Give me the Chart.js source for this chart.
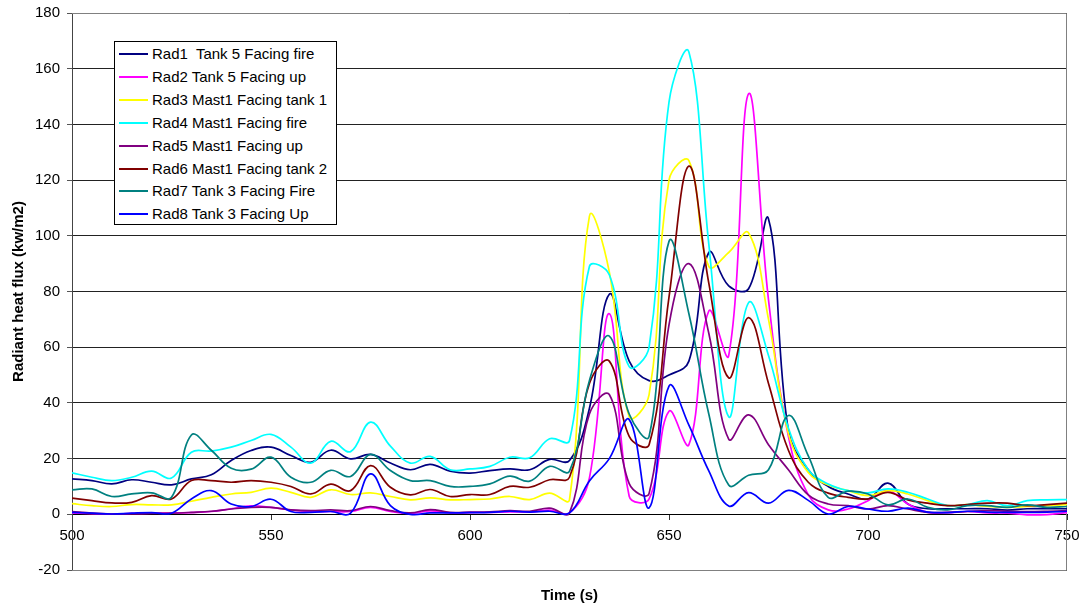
<!DOCTYPE html>
<html>
<head>
<meta charset="utf-8">
<script src="https://cdn.jsdelivr.net/npm/chart.js"></script>
<style>
  body { margin: 0; background: #fff; }
  #wrap { position: relative; width: 1083px; height: 607px; font-family: "Liberation Sans", Arial, sans-serif; }
  #legend { position: absolute; left: 114px; top: 41px; width: 221px; height: 182px; border: 1px solid #000; background: #fff; }
  .row { position: absolute; left: 0; height: 20px; line-height: 20px; font-size: 15px; color: #000; white-space: pre; }
  .row .swatch { position: absolute; left: 4px; top: 9px; width: 29px; height: 2px; }
  .row .txt { position: absolute; left: 37px; top: 0; }
</style>
</head>
<body>
<div id="wrap">
  <canvas id="chart" width="1083" height="607"></canvas>
  <div id="legend"></div>
</div>
<script>
// time axis (s)
const times = [500, 505, 510, 515, 520, 525, 530, 535, 540, 545, 550, 555, 560, 565, 570, 575, 580, 585, 590, 595,
  600, 605, 610, 615, 620, 625, 630, 635, 640, 645, 650, 655, 660, 665, 670, 675, 680, 685, 690, 695,
  700, 705, 710, 715, 720, 725, 730, 735, 740, 745, 750];

const labels = [
  "Rad1  Tank 5 Facing fire",
  "Rad2 Tank 5 Facing up",
  "Rad3 Mast1 Facing tank 1",
  "Rad4 Mast1 Facing fire",
  "Rad5 Mast1 Facing up",
  "Rad6 Mast1 Facing tank 2",
  "Rad7 Tank 3 Facing Fire",
  "Rad8 Tank 3 Facing Up"
];
const colors = ["#000080", "#FF00FF", "#FFFF00", "#00FFFF", "#800080", "#800000", "#008080", "#0000FF"];

// radiant heat flux (kw/m2)
const rad1 = [12.7, 12.1, 10.9, 12.4, 11.5, 10.6, 12.7, 14.2, 19.3, 22.9, 24.1, 21.1, 18.7, 23.0, 19.9, 21.5, 18.4, 16.0, 17.9, 15.5,
  14.8, 15.7, 16.3, 16.0, 19.7, 19.3, 38, 79, 55, 48, 50, 55, 94, 82, 81, 106, 30, 16, 10, 7.3,
  5.5, 11.2, 3.7, 2, 2, 2, 2, 1.5, 2, 2, 2];
const rad2 = [0.5, 0.2, 0.1, 0.3, 0.4, 0.4, 0.6, 1.0, 2.0, 3.0, 2.5, 1.5, 1.0, 1.0, 1.0, 2.5, 1.0, 0.3, 1.2, 0.5,
  0.6, 0.7, 0.9, 0.8, 1.5, 0.5, 13, 72, 6.5, 5.5, 37, 25, 73, 57, 151, 77, 28, 7, 1.6, 1.9,
  4.9, 8.5, 3.7, 0.7, 0.6, 1.0, 0.5, 0.4, -0.2, -0.1, 0.6];
const rad3 = [3.8, 3.1, 2.8, 3.5, 3.4, 3.4, 4.7, 6.1, 7.3, 7.9, 9.4, 7.9, 6.1, 8.8, 7.1, 7.7, 6.4, 5.2, 5.9, 5.2,
  5.3, 5.5, 6.4, 5.3, 7.6, 5.3, 107, 87, 35, 43, 120, 127, 89, 94, 101, 70, 29, 15, 10.5, 8.5,
  6.7, 8.5, 7.3, 4.9, 3.1, 3.5, 2.8, 2.5, 2.8, 3.1, 3.5];
const rad4 = [14.9, 13.3, 12.1, 13.3, 15.5, 13.0, 22.3, 22.7, 24.1, 26.5, 28.7, 24.1, 18.4, 26.2, 22.5, 33.1, 24.5, 18.4, 20.8, 16.0,
  16.3, 17.2, 20.5, 20.3, 27.1, 26.5, 89, 86, 53, 60, 148, 166, 97, 35, 76, 57, 31, 16, 10.9, 8.5,
  7.7, 9.1, 7.9, 5.5, 3.1, 3.5, 4.9, 3.1, 4.9, 5.2, 5.3];
const rad5 = [1.0, 0.4, 0.1, 0.2, 0.3, 0.4, 0.7, 1.1, 1.9, 2.5, 2.5, 1.6, 1.3, 1.6, 1.3, 2.8, 1.3, 0.5, 1.7, 0.7,
  0.8, 0.9, 1.3, 1.1, 2.2, 0.5, 36, 43, 11, 7.5, 68, 90, 65, 27, 35.7, 25, 16, 7, 3.7, 3.1,
  1.9, 3.1, 1.9, 0.7, 0.7, 1.0, 1.3, 1.1, 1.0, 1.1, 1.3];
const rad6 = [5.8, 4.9, 4.1, 4.3, 6.7, 5.5, 12.1, 12.1, 11.5, 12.1, 11.5, 10.0, 7.3, 10.8, 8.5, 17.5, 9.7, 7.0, 8.9, 6.4,
  7.1, 7.1, 10.0, 9.7, 12.4, 13.3, 47, 55, 28, 25, 78, 125, 83, 49, 70.6, 47, 23, 11.5, 7.6, 6.1,
  5.5, 7.9, 5.2, 4.0, 3.1, 3.5, 4.0, 4.0, 3.1, 3.5, 4.0];
const rad7 = [8.8, 9.1, 6.4, 7.3, 7.7, 6.1, 28.5, 23, 16.5, 16.2, 20.5, 13.3, 11.5, 15.8, 13.6, 21.5, 15.7, 12.1, 12.1, 10.0,
  10.0, 10.9, 13.7, 11.9, 17.2, 15.5, 48, 64, 36, 28, 98, 72, 36, 10.5, 14, 16, 35.5, 21, 6.1, 8.3,
  7.3, 3.4, 5.5, 2.5, 1.6, 3.1, 3.1, 2.5, 3.4, 2.5, 2.8];
const rad8 = [0.7, 0.4, 0.1, 0.4, 0.6, 0.4, 5.5, 8.5, 3.7, 2.8, 5.4, 1.0, 0.7, 1.0, 0.4, 14.5, 3.1, 0.0, 0.5, 0.5,
  0.6, 0.7, 1.1, 0.8, 1.1, 0.5, 12, 20, 34, 2.3, 46, 32, 15.6, 3, 7.8, 4, 8.6, 5, 0.1, 2.8,
  1.9, 1.1, 2.2, 0.8, 0.6, 1.1, 0.8, 0.7, 0.7, 0.8, 1.1];

const allSeries = [rad1, rad2, rad3, rad4, rad5, rad6, rad7, rad8];
const xTicks = [500, 550, 600, 650, 700, 750];
const yTicks = [-20, 0, 20, 40, 60, 80, 100, 120, 140, 160, 180];

const FONT = "'Liberation Sans', Arial, sans-serif";

// grey frame round the plot area + x axis title
const framePlugin = {
  id: 'frame',
  beforeDatasetsDraw(chart) {
    const a = chart.chartArea;
    const c = chart.ctx;
    c.save();
    c.strokeStyle = '#808080';
    c.lineWidth = 1;
    c.beginPath();
    c.moveTo(a.left, Math.round(a.top) + 0.5);
    c.lineTo(Math.round(a.right) - 0.5, Math.round(a.top) + 0.5);
    c.lineTo(Math.round(a.right) - 0.5, Math.round(a.bottom) + 0.5);
    c.lineTo(a.left, Math.round(a.bottom) + 0.5);
    c.stroke();
    c.restore();
  },
  afterDraw(chart) {
    const a = chart.chartArea;
    const c = chart.ctx;
    c.save();
    c.fillStyle = '#000';
    c.font = 'bold 15px ' + FONT;
    c.textAlign = 'center';
    c.textBaseline = 'middle';
    c.fillText('Time (s)', (a.left + a.right) / 2, 596);
    c.restore();
  }
};

function renderChart() {
  const ctx = document.getElementById('chart');

  const datasets = allSeries.map((values, i) => ({
    label: labels[i],
    data: times.map((t, j) => ({ x: t, y: values[j] })),
    borderColor: colors[i],
    borderWidth: 1.7,
    pointRadius: 0,
    tension: 0.4,
    fill: false,
    order: allSeries.length - 1 - i
  }));

  new Chart(ctx, {
    type: 'line',
    data: { datasets: datasets },
    options: {
      responsive: false,
      animation: false,
      layout: { padding: { left: 0, right: 16, top: 13, bottom: 37 } },
      plugins: { legend: { display: false }, tooltip: { enabled: false } },
      scales: {
        x: {
          type: 'linear',
          position: { y: 0 },
          min: 500,
          max: 750,
          afterBuildTicks: s => { s.ticks = xTicks.map(v => ({ value: v })); },
          afterFit: s => { s.paddingLeft = 0; s.paddingRight = 0; },
          ticks: { color: '#000', padding: 8, maxRotation: 0, font: { family: FONT, size: 15 } },
          grid: { drawOnChartArea: false, tickLength: 5, tickColor: '#333' },
          border: { color: '#000', width: 1 }
        },
        y: {
          min: -20,
          max: 180,
          afterBuildTicks: s => { s.ticks = yTicks.map(v => ({ value: v })); },
          afterFit: s => { s.width = 72; s.paddingTop = 0; s.paddingBottom = 0; },
          ticks: { color: '#000', padding: 7, font: { family: FONT, size: 15 } },
          grid: { color: '#222', tickLength: 5, tickColor: '#555' },
          border: { color: '#444', width: 1 },
          title: {
            display: true,
            text: 'Radiant heat flux (kw/m2)',
            color: '#000',
            font: { family: FONT, size: 15, weight: 'bold' },
            padding: { top: 10, bottom: 0 }
          }
        }
      }
    },
    plugins: [framePlugin]
  });
}

function renderLegend() {
  const box = document.getElementById('legend');
  labels.forEach((name, i) => {
    const row = document.createElement('div');
    row.className = 'row';
    row.style.top = (2 + i * 22.9) + 'px';
    row.innerHTML = '<span class="swatch" style="background:' + colors[i] + '"></span><span class="txt"></span>';
    row.querySelector('.txt').textContent = name;
    box.appendChild(row);
  });
}

renderChart();
renderLegend();
</script>
</body>
</html>
